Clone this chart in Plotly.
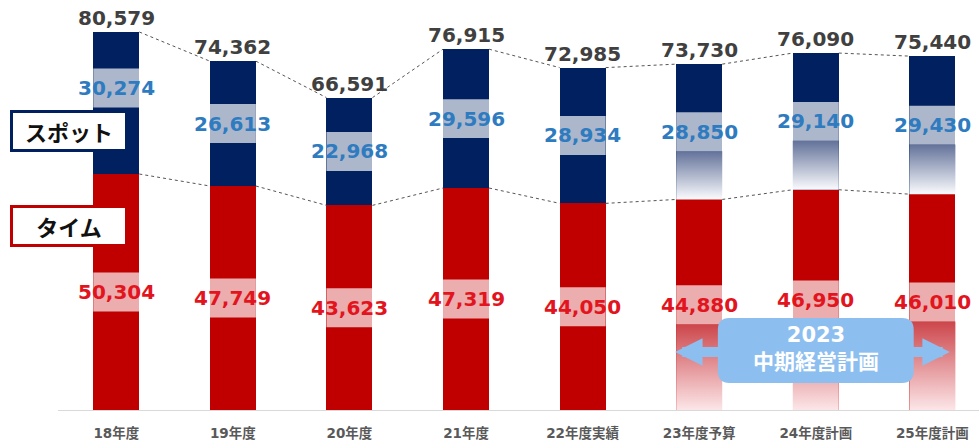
"""Spot / time sales by fiscal year (stacked bars)."""

import plotly.graph_objects as go

categories = ["18年度", "19年度", "20年度", "21年度", "22年度実績", "23年度予算", "24年度計画", "25年度計画"]
spot = [30274, 26613, 22968, 29596, 28934, 28850, 29140, 29430]
time_ = [50304, 47749, 43623, 47319, 44050, 44880, 46950, 46010]
totals = [80579, 74362, 66591, 76915, 72985, 73730, 76090, 75440]
is_plan = [False, False, False, False, False, True, True, True]

NAVY = "#002060"
RED = "#C00000"
BLUE_TXT = "#2E7BC0"
RED_TXT = "#E2141E"
NUM_FONT = "DejaVu Sans, Verdana, sans-serif"
JP_FONT = "Noto Sans CJK JP, sans-serif"

W = 0.395          # bar width (category units)
BAND = 4150        # half height of the white band behind labels
idx = list(range(len(categories)))

fig = go.Figure()

# stacked bars
fig.add_trace(go.Bar(x=idx, y=time_, width=W, marker=dict(color=RED, line=dict(width=0)),
                     hoverinfo="skip", name="タイム"))
fig.add_trace(go.Bar(x=idx, y=spot, width=W, marker=dict(color=NAVY, line=dict(width=0)),
                     hoverinfo="skip", name="スポット"))

# label centres
spot_mid = [t + s / 2 for t, s in zip(time_, spot)]
spot_mid[0] += 3200  # first label pushed up to clear the legend box
time_mid = [t / 2 for t in time_]

# fading parts of the planned years
for i in idx:
    if not is_plan[i]:
        continue
    xs = [i - W / 2, i + W / 2, i + W / 2, i - W / 2, i - W / 2]
    top = spot_mid[i] - BAND
    bot = time_[i]
    fig.add_trace(go.Scatter(
        x=xs, y=[bot, bot, top, top, bot], mode="lines", fill="toself",
        line=dict(width=0), hoverinfo="skip", showlegend=False,
        fillgradient=dict(type="vertical", colorscale=[[0, "#FAFBFD"], [1, "#63729A"]]),
    ))
    top = time_mid[i] - BAND
    fig.add_trace(go.Scatter(
        x=xs, y=[0, 0, top, top, 0], mode="lines", fill="toself",
        line=dict(width=0), hoverinfo="skip", showlegend=False,
        fillgradient=dict(type="vertical", colorscale=[[0, "#FCE6E8"], [1, "#CC464B"]]),
    ))

# dotted connectors between bar tops and between segment boundaries
for level in (totals, time_):
    lx, ly = [], []
    for i in idx[:-1]:
        lx += [i + W / 2, i + 1 - W / 2, None]
        ly += [level[i], level[i + 1], None]
    fig.add_trace(go.Scatter(x=lx, y=ly, mode="lines", hoverinfo="skip", showlegend=False,
                             line=dict(color="#555555", width=1, dash="dot")))

shapes = []
# translucent bands behind the segment labels
for i in idx:
    for mid in (spot_mid[i], time_mid[i]):
        shapes.append(dict(type="rect", xref="x", yref="y", x0=i - W / 2, x1=i + W / 2,
                           y0=mid - BAND, y1=mid + BAND, fillcolor="rgba(255,255,255,0.68)",
                           line=dict(width=0), layer="above"))

# rounded box for the mid-term plan
bx0, bx1, by0, by1 = 5.16, 6.84, 5760, 19600
rx, ry = 0.1, 2500
path = (f"M {bx0 + rx},{by0} L {bx1 - rx},{by0} Q {bx1},{by0} {bx1},{by0 + ry} "
        f"L {bx1},{by1 - ry} Q {bx1},{by1} {bx1 - rx},{by1} L {bx0 + rx},{by1} "
        f"Q {bx0},{by1} {bx0},{by1 - ry} L {bx0},{by0 + ry} Q {bx0},{by0} {bx0 + rx},{by0} Z")

annotations = []
# double arrow (drawn under the box)
annotations.append(dict(x=7.15, y=12370, ax=4.78, ay=12370, xref="x", yref="y", axref="x", ayref="y",
                        text="", showarrow=True, arrowside="end+start", arrowhead=2,
                        arrowsize=0.55, arrowwidth=10, arrowcolor="#8DBEF0"))

for i in idx:
    annotations.append(dict(x=i, y=totals[i], xref="x", yref="y", yanchor="bottom", yshift=0,
                            text=f"{totals[i]:,}", showarrow=False,
                            font=dict(family=NUM_FONT, size=20, color="#404040", weight="bold")))
    annotations.append(dict(x=i, y=spot_mid[i], xref="x", yref="y", text=f"{spot[i]:,}",
                            showarrow=False,
                            font=dict(family=NUM_FONT, size=20, color=BLUE_TXT, weight="bold")))
    annotations.append(dict(x=i, y=time_mid[i], xref="x", yref="y", text=f"{time_[i]:,}",
                            showarrow=False,
                            font=dict(family=NUM_FONT, size=20, color=RED_TXT, weight="bold")))

# legend boxes
for label, yv, col in (("スポット", 59500, NAVY), ("タイム", 39200, RED)):
    annotations.append(dict(x=-0.403, y=yv, xref="x", yref="y", text=label, showarrow=False,
                            width=110, height=34, borderpad=1, borderwidth=3, bordercolor=col,
                            bgcolor="white",
                            font=dict(family=JP_FONT, size=22, color="#111111", weight="bold")))

annotations.append(dict(x=(bx0 + bx1) / 2, y=(by0 + by1) / 2 + 400, xref="x", yref="y",
                        text="2023<br>中期経営計画", showarrow=False,
                        font=dict(family="DejaVu Sans, Noto Sans CJK JP", size=21,
                                  color="white", weight="bold")))

shapes.append(dict(type="path", xref="x", yref="y", path=path, fillcolor="#8DBEF0",
                   line=dict(width=0), layer="above"))

fig.update_layout(
    width=979, height=443,
    margin=dict(l=58, r=0, t=0, b=33),
    barmode="stack",
    showlegend=False,
    plot_bgcolor="white",
    paper_bgcolor="white",
    shapes=shapes,
    annotations=annotations,
    xaxis=dict(range=[-0.5, 7.4], tickvals=idx, ticktext=categories, showgrid=False,
               zeroline=False, showline=True, linecolor="#D9D9D9", linewidth=1,
               ticks="outside", ticklen=11, tickcolor="rgba(0,0,0,0)",
               tickfont=dict(family="DejaVu Sans, Noto Sans CJK JP", size=13.5,
                             color="#595959", weight="bold")),
    yaxis=dict(range=[0, 87400], visible=False, showgrid=False, zeroline=False),
)

# drop the page's default body margin so the figure sits at the window origin
fig.write_html("out.html", config={"displayModeBar": False},
               post_script="document.body.style.margin='0';")
